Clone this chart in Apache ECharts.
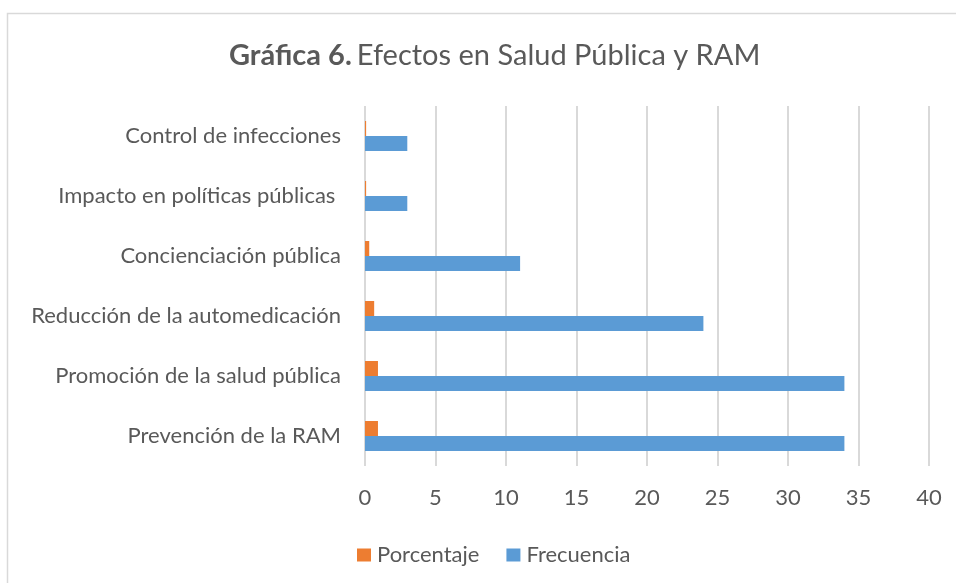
<!DOCTYPE html>
<html><head><meta charset="utf-8">
<script src="https://cdn.jsdelivr.net/npm/echarts@6/dist/echarts.min.js"></script>
<style>html,body{margin:0;padding:0;background:#fff}#c{width:956px;height:583px}</style>
</head><body><div id="c"></div>
<script>
const categories = ["Prevención de la RAM","Promoción de la salud pública","Reducción de la automedicación","Concienciación pública","Impacto en políticas públicas ","Control de infecciones"];
const frecuencia = [34, 34, 24, 11, 3, 3];
const porcentaje = [0.92, 0.92, 0.65, 0.30, 0.08, 0.08];
const xTicks = [0, 5, 10, 15, 20, 25, 30, 35, 40];

const FONT = 'Lato';
const chart = echarts.init(document.getElementById('c'));
chart.setOption({
  animation: false,
  graphic: [{type:'rect', shape:{x:7.5,y:13.5,width:960,height:600}, style:{fill:'none', stroke:'#d9d9d9', lineWidth:1.5}}],
  title: {
    text: '{b|Gráfica 6.} {n|Efectos en Salud Pública y RAM}',
    left: 224, top: 36,
    textStyle: { fontWeight: 'normal', rich: {
      b: {fontFamily: FONT, fontWeight: 'bold', fontSize: 29, color: '#595959'},
      n: {fontFamily: FONT, fontWeight: 'normal', fontSize: 29, color: '#595959'}
    }}
  },
  legend: {
    data: ['Porcentaje','Frecuencia'],
    left: 352, top: 539, itemWidth: 14, itemHeight: 13, itemGap: 27, icon: 'rect',
    textStyle: {fontFamily: FONT, fontSize: 22, color: '#595959', padding: [0,0,0,1]}
  },
  grid: {left: 365, right: 27, top: 106, bottom: 117, containLabel: false},
  xAxis: {
    type: 'value', min: xTicks[0], max: xTicks[xTicks.length-1], interval: 5,
    axisLine: {show: false}, axisTick: {show: false},
    splitLine: {lineStyle: {color: '#d9d9d9', width: 2}},
    axisLabel: {fontFamily: FONT, fontSize: 22, color: '#595959', margin: 21}
  },
  yAxis: {
    type: 'category', data: categories,
    axisLine: {show: false}, axisTick: {show: false},
    axisLabel: {fontFamily: FONT, fontSize: 22, color: '#595959', margin: 24}
  },
  series: [
    {name: 'Porcentaje', type: 'bar', data: porcentaje, barWidth: 15, barGap: '0%', itemStyle: {color: '#ed7d31'}},
    {name: 'Frecuencia', type: 'bar', data: frecuencia, barWidth: 15, barGap: '0%', itemStyle: {color: '#5b9bd5'}}
  ]
});
</script></body></html>
